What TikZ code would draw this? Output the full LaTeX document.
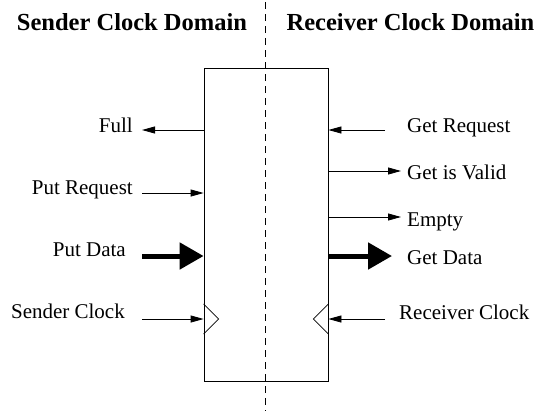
\documentclass[tikz,border=0pt]{standalone}
\usepackage{fontspec}
\setmainfont{Liberation Serif}
\usetikzlibrary{arrows.meta}
\begin{document}
\begin{tikzpicture}[x=1pt, y=-1pt, font=\fontsize{21}{25}\selectfont,
      domainhead/.style={font=\fontsize{24.5}{29}\selectfont\bfseries, inner sep=0pt},
      lbl/.style={inner sep=0pt},
      fifobox/.style={draw, line width=0.8pt, minimum width=124pt, minimum height=313pt, inner sep=0pt},
      sig/.style={line width=0.8pt, -{Triangle[length=13pt,width=7pt]}},
      bus/.style={line width=5pt, -{Triangle[length=24pt,width=26pt]}},
      clk/.style={line width=0.8pt},
      divider/.style={line width=0.8pt, dash pattern=on 7pt off 5pt}]
    \useasboundingbox (0,0) rectangle (541,418);
    \node[domainhead] (sendtitle) at (132,22.5) {Sender Clock Domain};
    \node[domainhead] (recvtitle) at (410.5,22.5) {Receiver Clock Domain};
    \coordinate (divtop) at (265,2);
    \coordinate (divbot) at (265,411);
    \draw[divider] (divtop) -- (divbot);
    \node[fifobox] (fifo) at (266,224.5) {};
    \node[lbl, anchor=base east] (full) at (133,132) {Full};
    \node[lbl, anchor=base east] (putreq) at (133,194) {Put Request};
    \node[lbl, anchor=base east] (putdata) at (126,256) {Put Data};
    \node[lbl, anchor=base east] (sclk) at (125,318) {Sender Clock};
    \node[lbl, anchor=base west] (getreq) at (407,132) {Get Request};
    \node[lbl, anchor=base west] (valid) at (407,179) {Get is Valid};
    \node[lbl, anchor=base west] (empty) at (407,226) {Empty};
    \node[lbl, anchor=base west] (getdata) at (407,264) {Get Data};
    \node[lbl, anchor=base west] (rclk) at (399,319) {Receiver Clock};
    \coordinate (full-end) at (142,130);
    \coordinate (putreq-start) at (142,193);
    \coordinate (putdata-start) at (142,256);
    \coordinate (sclk-start) at (142,319);
    \coordinate (getreq-start) at (385,130);
    \coordinate (valid-end) at (401,171);
    \coordinate (empty-end) at (401,217);
    \coordinate (getdata-end) at (392,256);
    \coordinate (rclk-start) at (385,319);
    \draw[sig] (fifo.west |- full-end) -- (full-end);
    \draw[sig] (putreq-start) -- (fifo.west |- putreq-start);
    \draw[bus] (putdata-start) -- (fifo.west |- putdata-start);
    \draw[sig] (sclk-start) -- (fifo.west |- sclk-start);
    \draw[sig] (getreq-start) -- (fifo.east |- getreq-start);
    \draw[sig] (fifo.east |- valid-end) -- (valid-end);
    \draw[sig] (fifo.east |- empty-end) -- (empty-end);
    \draw[bus] (fifo.east |- getdata-end) -- (getdata-end);
    \draw[sig] (rclk-start) -- (fifo.east |- rclk-start);
    \draw[clk] (fifo.west |- sclk-start) ++(0,-15) -- ++(15,15) -- ++(-15,15);
    \draw[clk] (fifo.east |- rclk-start) ++(0,-15) -- ++(-15,15) -- ++(15,15);
  \end{tikzpicture}
\end{document}
